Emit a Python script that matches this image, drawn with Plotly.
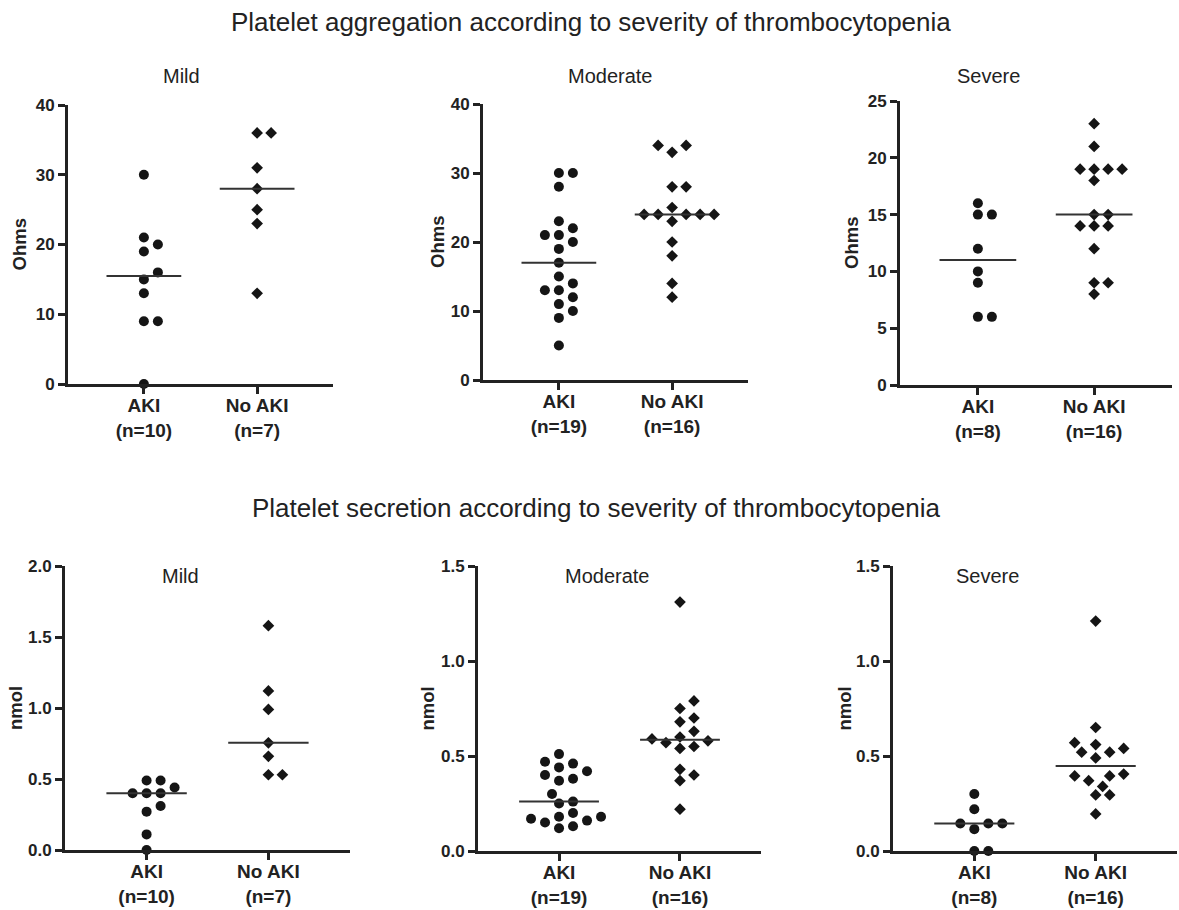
import numpy as np
import plotly.graph_objects as go

# ---------------- data ----------------
groups = ["AKI", "No AKI"]
severity = ["Mild", "Moderate", "Severe"]

n_labels_top = [["(n=10)", "(n=7)"], ["(n=19)", "(n=16)"], ["(n=8)", "(n=16)"]]
n_labels_bottom = [["(n=10)", "(n=7)"], ["(n=19)", "(n=16)"], ["(n=8)", "(n=16)"]]

agg_mild_aki = [30, 21, 20, 19, 16, 15, 13, 9, 9, 0]
agg_mild_noaki = [36, 36, 31, 28, 25, 23, 13]
agg_mod_aki = [30, 30, 28, 23, 22, 21, 21, 20, 19, 17, 15, 14, 13, 13, 12, 11, 10, 9, 5]
agg_mod_noaki = [34, 34, 33, 28, 28, 25, 24, 24, 24, 24, 24, 23, 20, 18, 14, 12]
agg_sev_aki = [16, 15, 15, 12, 10, 9, 6, 6]
agg_sev_noaki = [23, 21, 19, 19, 19, 19, 18, 15, 15, 14, 14, 14, 12, 9, 9, 8]

sec_mild_aki = [0.49, 0.49, 0.44, 0.40, 0.40, 0.40, 0.31, 0.27, 0.11, 0.0]
sec_mild_noaki = [1.58, 1.12, 0.99, 0.755, 0.66, 0.53, 0.53]
sec_mod_aki = [0.51, 0.47, 0.46, 0.44, 0.42, 0.40, 0.38, 0.37, 0.30, 0.26,
               0.25, 0.20, 0.18, 0.18, 0.17, 0.16, 0.15, 0.13, 0.12]
sec_mod_noaki = [1.31, 0.79, 0.75, 0.70, 0.68, 0.63, 0.60, 0.59, 0.58, 0.57,
                 0.55, 0.54, 0.43, 0.40, 0.37, 0.22]
sec_sev_aki = [0.30, 0.22, 0.145, 0.145, 0.145, 0.115, 0.0, 0.0]
sec_sev_noaki = [1.21, 0.65, 0.57, 0.56, 0.54, 0.52, 0.52, 0.49, 0.405, 0.395,
                 0.395, 0.37, 0.34, 0.295, 0.295, 0.195]

y_max = [40, 40, 25, 2.0, 1.5, 1.5]
y_dtick = [10, 10, 5, 0.5, 0.5, 0.5]
y_titles = ["Ohms", "Ohms", "Ohms", "nmol", "nmol", "nmol"]

panels = [
    (agg_mild_aki, agg_mild_noaki),
    (agg_mod_aki, agg_mod_noaki),
    (agg_sev_aki, agg_sev_noaki),
    (sec_mild_aki, sec_mild_noaki),
    (sec_mod_aki, sec_mod_noaki),
    (sec_sev_aki, sec_sev_noaki),
]

# ---------------- layout geometry ----------------
W, H = 1179, 910
FONT = "Liberation Sans, Arial, sans-serif"
INK = "#222222"
XR = [-0.67, 1.67]

# pixel boxes (left, right, top, bottom)
boxes = [
    (68, 333, 105, 384),
    (483, 748, 104, 380),
    (900, 1172, 101, 385),
    (65, 350, 566, 850),
    (478, 761, 566, 851),
    (893, 1177, 566, 851),
]


def swarm(vals, xscale, yscale, step=7.0, dmin=11.0):
    vals = np.asarray(vals, dtype=float)
    order = np.argsort(vals, kind="stable")
    placed = []
    offs = np.zeros(len(vals))
    cands = [0]
    for m in range(1, 30):
        cands += [m, -m]
    for i in order:
        y = vals[i] * yscale
        xsel = 0.0
        for c in cands:
            x = c * step
            if all((x - px) ** 2 + (y - py) ** 2 >= dmin ** 2 for px, py in placed):
                xsel = x
                break
        placed.append((xsel, y))
        offs[i] = xsel / xscale
    return offs


fig = go.Figure()

for p, (aki, noaki) in enumerate(panels):
    l, r, t, b = boxes[p]
    xscale = (r - l) / (XR[1] - XR[0])
    yscale = (b - t) / y_max[p]
    sfx = "" if p == 0 else str(p + 1)
    for g, vals in enumerate([aki, noaki]):
        offs = swarm(vals, xscale, yscale)
        fig.add_trace(go.Scatter(
            x=g + offs, y=vals, mode="markers",
            xaxis="x" + sfx, yaxis="y" + sfx,
            marker=dict(symbol="circle" if g == 0 else "diamond",
                        size=10 if g == 0 else 9, color="#151515",
                        line=dict(width=0)),
            cliponaxis=False, showlegend=False, hoverinfo="y",
        ))
        med = float(np.median(vals))
        fig.add_trace(go.Scatter(
            x=[g - 0.33, g + 0.33], y=[med, med], mode="lines",
            xaxis="x" + sfx, yaxis="y" + sfx,
            line=dict(color="#333333", width=2),
            showlegend=False, hoverinfo="skip", cliponaxis=False,
        ))

layout = dict(
    width=W, height=H, autosize=False,
    margin=dict(l=0, r=0, t=0, b=0, pad=0, autoexpand=False),
    paper_bgcolor="white", plot_bgcolor="white",
    font=dict(family=FONT, color=INK),
    showlegend=False,
)

nlab = n_labels_top + n_labels_bottom
for p in range(6):
    l, r, t, b = boxes[p]
    sfx = "" if p == 0 else str(p + 1)
    ticktext = ["%s<br>%s" % (groups[g], nlab[p][g]) for g in range(2)]
    layout["xaxis" + sfx] = dict(
        domain=[l / W, r / W], anchor="y" + sfx, range=XR,
        tickmode="array", tickvals=[0, 1], ticktext=ticktext,
        showline=True, linewidth=3, linecolor=INK,
        ticks="outside", ticklen=7, tickwidth=3, tickcolor=INK,
        ticklabelstandoff=-5,
        tickfont=dict(family=FONT, size=19, color=INK, weight="bold"),
        showgrid=False, zeroline=False, fixedrange=True, automargin=False,
    )
    layout["yaxis" + sfx] = dict(
        domain=[1 - b / H, 1 - t / H], anchor="x" + sfx,
        range=[0, y_max[p]], dtick=y_dtick[p], tick0=0,
        tickformat=".1f" if y_max[p] < 5 else "d",
        showline=True, linewidth=3, linecolor=INK,
        ticks="outside", ticklen=7, tickwidth=3, tickcolor=INK,
        tickfont=dict(family=FONT, size=17, color=INK, weight="bold"),
        showgrid=False, zeroline=False, fixedrange=True, automargin=False,
    )

annotations = []
main_titles = [
    ("Platelet aggregation according to severity of thrombocytopenia", 591, 22),
    ("Platelet secretion according to severity of thrombocytopenia", 596, 508),
]
for txt, x, y in main_titles:
    annotations.append(dict(text=txt, x=x / W, y=1 - y / H, xref="paper", yref="paper",
                            xanchor="center", yanchor="middle", showarrow=False,
                            font=dict(family=FONT, size=26, color=INK)))
sub_pos = [(181, 76), (610, 76), (988, 76), (180, 576), (608, 576), (987, 576)]
for p, (x, y) in enumerate(sub_pos):
    annotations.append(dict(text=severity[p % 3], x=x / W, y=1 - y / H, xref="paper", yref="paper",
                            xanchor="center", yanchor="middle", showarrow=False,
                            font=dict(family=FONT, size=20, color=INK)))
ytitle_x = [19, 438, 852, 15, 427, 844]
for p in range(6):
    l, r, t, b = boxes[p]
    annotations.append(dict(text="<b>%s</b>" % y_titles[p], x=ytitle_x[p] / W, y=1 - (t + b) / 2 / H,
                            xref="paper", yref="paper", xanchor="center", yanchor="middle",
                            textangle=-90, showarrow=False,
                            font=dict(family=FONT, size=18.5, color=INK)))
layout["annotations"] = annotations

fig.update_layout(**layout)
fig.write_html(
    "out.html",
    config={"displayModeBar": False},
    post_script="document.body.style.margin='0px';document.body.style.overflow='hidden';",
)
